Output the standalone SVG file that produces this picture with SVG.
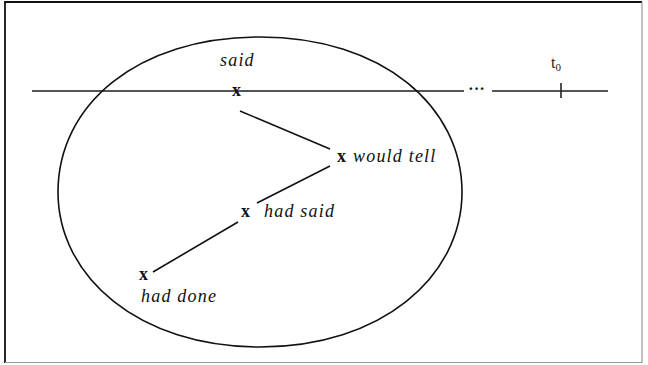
<svg xmlns="http://www.w3.org/2000/svg" width="648" height="365" viewBox="0 0 648 365">
<style>
.ln{stroke:#111;stroke-width:1.6;fill:none}
.t{font-family:"Liberation Serif",serif;font-size:18px;font-style:italic;fill:#111;letter-spacing:1.2px}
.x{font-family:"Liberation Serif",serif;font-size:18px;font-weight:bold;fill:#111}
</style>
<rect x="0" y="0" width="648" height="365" fill="#fff"/>
<path d="M5,363 V2 H642" fill="none" stroke="#111" stroke-width="1.8"/>
<path d="M642,2 V362.5 H5" fill="none" stroke="#999" stroke-width="1.2"/>
<g id="timeline">
<line x1="32" y1="91" x2="464" y2="91" stroke="#555" stroke-width="1.8"/>
<text x="468" y="94" font-family="Liberation Serif, serif" font-size="17" font-weight="bold" fill="#222">···</text>
<line x1="492" y1="91" x2="608" y2="91" stroke="#555" stroke-width="1.8"/>
<line x1="561" y1="83" x2="561" y2="98" stroke="#222" stroke-width="1.6"/>
<text id="t0" x="551" y="68" font-family="Liberation Serif, serif" font-size="16" fill="#222">t<tspan font-size="11" dy="3">0</tspan></text>
</g>
<g id="circle"><path class="ln" d="M260,37 C383,37 462,107 462,192 C462,277 381,347 260,347 C139,347 58,277 58,192 C58,105 137,37 260,37 Z"/></g>
<g id="n-said"><text class="x" x="232" y="96">x</text><text class="t" x="220" y="66">said</text></g>
<g id="n-would"><text class="x" x="337" y="162">x</text><text class="t" x="353" y="162">would tell</text></g>
<g id="n-hadsaid"><text class="x" x="241" y="217">x</text><text class="t" x="264" y="217">had said</text></g>
<g id="n-haddone"><text class="x" x="139" y="280">x</text><text class="t" x="141" y="302">had done</text></g>
<g id="connectors">
<line class="ln" x1="240" y1="111" x2="330" y2="149"/>
<line class="ln" x1="330" y1="166" x2="257" y2="203"/>
<line class="ln" x1="238" y1="222" x2="153" y2="272"/>
</g>
</svg>
